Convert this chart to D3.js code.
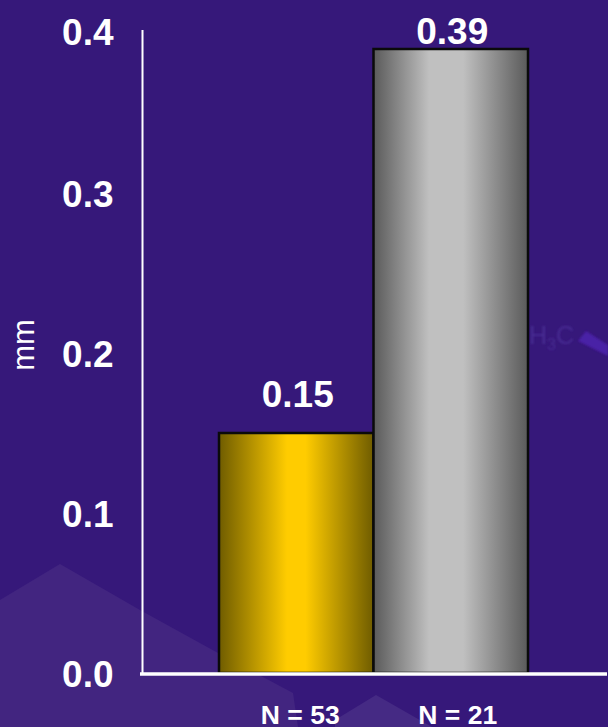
<!DOCTYPE html>
<html>
<head>
<meta charset="utf-8">
<style>
  html, body { margin: 0; padding: 0; background: #36187a; }
  svg { display: block; }
  text { font-family: "Liberation Sans", Arial, sans-serif; fill: #fff; }
</style>
</head>
<body>
<div id="chart"></div>
<script src="https://cdn.jsdelivr.net/npm/d3@7"></script>
<script>
var categories = ["N = 53", "N = 21"];
var values = [0.15, 0.39];
var valueLabels = ["0.15", "0.39"];
var tickValues = [0, 0.1, 0.2, 0.3, 0.4];
var yLabel = "mm";

var width = 608, height = 727;

var svg = d3.select("#chart").append("svg")
    .attr("width", width)
    .attr("height", height);

var defs = svg.append("defs");

// cylinder shading on the bars
function barGradient(id, edge, mid, from, to) {
    var g = defs.append("linearGradient").attr("id", id)
        .attr("x1", "0").attr("x2", "1").attr("y1", "0").attr("y2", "0");
    g.append("stop").attr("offset", "0").attr("stop-color", edge);
    g.append("stop").attr("offset", from).attr("stop-color", mid);
    g.append("stop").attr("offset", to).attr("stop-color", mid);
    g.append("stop").attr("offset", "1").attr("stop-color", edge);
}
barGradient("barGold", "#6f5c00", "#ffcc00", 0.44, 0.56);
barGradient("barGray", "#5a5a5a", "#c0c0c0", 0.36, 0.58);
var barFills = ["url(#barGold)", "url(#barGray)"];

defs.append("filter").attr("id", "soft")
    .append("feGaussianBlur").attr("stdDeviation", 1.2);

// slide background shapes
var bg = svg.append("g");
bg.append("path")
    .attr("d", "M0,600L60,564L140,610L218,653L293,693L298,727L0,727Z")
    .attr("fill", "#422580");
bg.append("path")
    .attr("d", "M335,720L376,695L432,727L335,727Z")
    .attr("fill", "#452a84");
bg.append("path")
    .attr("d", "M578,341L586,331L608,345L608,356Z")
    .attr("fill", "#4a20a6")
    .attr("filter", "url(#soft)");
var ghost = bg.append("text")
    .attr("x", 529).attr("y", 344)
    .attr("font-size", 25)
    .attr("filter", "url(#soft)")
    .style("fill", "#472a92");
ghost.append("tspan").text("H");
ghost.append("tspan").attr("font-size", 16).attr("dy", 6).text("3");
ghost.append("tspan").attr("dy", -6).text("C");

var x = d3.scaleBand()
    .domain(categories)
    .range([219, 528])
    .padding(0);

var y = d3.scaleLinear()
    .domain([0, 0.4])
    .range([673, 33]);

svg.selectAll("rect.bar")
    .data(values)
    .enter().append("rect")
    .attr("class", "bar")
    .attr("x", function(d, i) { return x(categories[i]); })
    .attr("y", function(d) { return y(d); })
    .attr("width", x.bandwidth())
    .attr("height", function(d) { return y(0) - y(d); })
    .attr("fill", function(d, i) { return barFills[i]; })
    .attr("stroke", "#0a0a0a")
    .attr("stroke-width", 2.5);

// axes are plain white lines, no tick marks
var yAxis = svg.append("g")
    .attr("transform", "translate(142.5,0)")
    .call(d3.axisLeft(y).tickValues(tickValues).tickSize(0).tickFormat(d3.format(".1f")));
yAxis.select(".domain").attr("stroke", "#fff").attr("stroke-width", 2)
    .attr("d", "M0,30V674");
yAxis.selectAll("text")
    .attr("x", -29)
    .attr("dy", function(d) { return d == 0.4 ? 11 : 13; })
    .attr("font-family", null)
    .attr("font-size", 37)
    .attr("font-weight", "bold");

var xAxis = svg.append("g")
    .attr("transform", "translate(0,674)")
    .call(d3.axisBottom(x).tickSize(0));
xAxis.select(".domain").attr("stroke", "#fff").attr("stroke-width", 3.4)
    .attr("d", "M140,0H607");
xAxis.selectAll("text")
    .attr("x", function(d, i) { return i == 0 ? 4 : 7; })
    .attr("y", 50)
    .attr("dy", 0)
    .attr("font-family", null)
    .attr("font-size", 26.5)
    .attr("font-weight", "bold");

svg.selectAll("text.value")
    .data(values)
    .enter().append("text")
    .attr("class", "value")
    .attr("x", function(d, i) { return x(categories[i]) + x.bandwidth() / 2 + 1.5; })
    .attr("y", function(d, i) { return y(d) - (i == 0 ? 26 : 5); })
    .attr("text-anchor", "middle")
    .attr("font-size", 37)
    .attr("font-weight", "bold")
    .text(function(d, i) { return valueLabels[i]; });

svg.append("text")
    .attr("transform", "translate(34,345) rotate(-90)")
    .attr("text-anchor", "middle")
    .attr("font-size", 31)
    .text(yLabel);
</script>
</body>
</html>
